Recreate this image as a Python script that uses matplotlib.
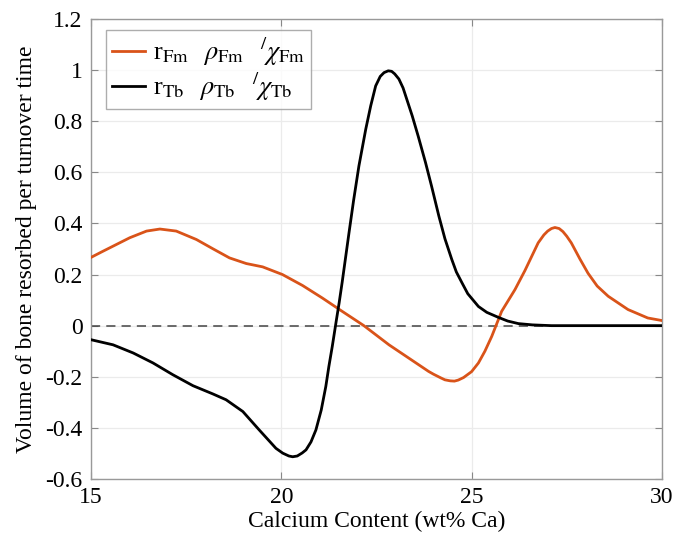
import matplotlib
matplotlib.use("Agg")
import matplotlib.pyplot as plt
from matplotlib.ticker import FuncFormatter

plt.rcParams['font.family'] = ['Liberation Serif', 'DejaVu Serif']
plt.rcParams['mathtext.fontset'] = 'stix'
plt.rcParams['axes.unicode_minus'] = False

fm_x = [15.0, 15.3, 15.58, 16.02, 16.46, 16.81, 17.24, 17.77, 18.20, 18.64, 19.08, 19.51,
        20.03, 20.56, 21.08, 21.6, 22.17, 22.83, 23.35, 23.87, 24.0, 24.2, 24.3, 24.44, 24.55,
        24.65, 24.79, 25.0, 25.18, 25.35, 25.53, 25.79, 26.14, 26.4, 26.75, 26.9, 27.0, 27.1,
        27.19, 27.3, 27.4, 27.5, 27.62, 27.85, 28.06, 28.3, 28.59, 29.11, 29.63, 30.0]
fm_y = [0.267, 0.29, 0.311, 0.344, 0.370, 0.378, 0.370, 0.337, 0.301, 0.265, 0.243, 0.230,
        0.200, 0.157, 0.108, 0.056, 0.0, -0.075, -0.127, -0.179, -0.19, -0.205, -0.212, -0.216, -0.217,
        -0.213, -0.203, -0.180, -0.146, -0.10, -0.042, 0.056, 0.141, 0.215, 0.324, 0.355, 0.370, 0.380,
        0.384, 0.380, 0.368, 0.350, 0.324, 0.26, 0.205, 0.155, 0.115, 0.063, 0.030, 0.020]

tb_x = [15.0, 15.58, 16.11, 16.63, 17.15, 17.68, 18.2, 18.55, 18.99, 19.42, 19.86, 20.04,
        20.2, 20.30, 20.42, 20.55, 20.65, 20.78, 20.91, 21.05, 21.17, 21.25, 21.34, 21.45,
        21.52, 21.6, 21.78, 21.9, 22.04, 22.22, 22.35, 22.48, 22.6, 22.7, 22.81, 22.9, 22.98,
        23.09, 23.2, 23.44, 23.6, 23.79, 23.95, 24.14, 24.3, 24.48, 24.6, 24.75, 24.9, 25.18,
        25.4, 25.71, 25.95, 26.23, 26.6, 27.1, 30.0]
tb_y = [-0.055, -0.075, -0.107, -0.146, -0.192, -0.235, -0.267, -0.290, -0.336, -0.408, -0.480, -0.499,
        -0.510, -0.513, -0.510, -0.498, -0.486, -0.455, -0.408, -0.33, -0.238, -0.16, -0.081, 0.024,
        0.089, 0.17, 0.364, 0.49, 0.625, 0.769, 0.86, 0.938, 0.975, 0.99, 0.997, 0.995, 0.985,
        0.965, 0.93, 0.821, 0.74, 0.638, 0.545, 0.429, 0.34, 0.259, 0.21, 0.167, 0.125, 0.075,
        0.052, 0.032, 0.018, 0.008, 0.003, 0.0, 0.0]

x_ticks = [15, 20, 25, 30]
y_ticks = [-0.6, -0.4, -0.2, 0, 0.2, 0.4, 0.6, 0.8, 1, 1.2]

label_fm = r'r$_{\mathrm{Fm}}$  $\,\rho_{\mathrm{Fm}}$  $\,^{/}\chi_{\mathrm{Fm}}$'
label_tb = r'r$_{\mathrm{Tb}}$  $\,\rho_{\mathrm{Tb}}$  $\,^{/}\chi_{\mathrm{Tb}}$'

fig = plt.figure(figsize=(6.74, 5.41), dpi=100)
ax = fig.add_axes([0.135, 0.1146, 0.847, 0.8504])

ax.axhline(0, color='#444444', lw=1.1, ls=(0, (6, 4)), zorder=1)
ax.plot(fm_x, fm_y, color='#D95319', lw=2.0, label=label_fm, zorder=3)
ax.plot(tb_x, tb_y, color='black', lw=2.0, label=label_tb, zorder=3)

ax.set_xlim(15, 30)
ax.set_ylim(-0.6, 1.2)
ax.set_xticks(x_ticks)
ax.set_yticks(y_ticks)
ax.yaxis.set_major_formatter(FuncFormatter(lambda v, p: ('%g' % round(v, 2))))
ax.grid(True, color='#ebebeb', lw=0.9)
ax.set_axisbelow(True)
ax.tick_params(direction='in', top=True, right=True, labelsize=17, length=5,
               color='#888888', pad=6)
for s in ax.spines.values():
    s.set_color('#999999')
    s.set_linewidth(1.0)

ax.set_xlabel('Calcium Content (wt% Ca)', fontsize=17, labelpad=2)
ax.set_ylabel('Volume of bone resorbed per turnover time', fontsize=17, labelpad=6)

leg = ax.legend(loc='upper left', fontsize=19, frameon=True, fancybox=False,
                edgecolor='#999999', handlelength=1.25, handletextpad=0.3,
                borderpad=0.22, borderaxespad=0.0,
                bbox_to_anchor=(0.027, 0.976), labelspacing=0.12)
leg.get_frame().set_linewidth(1.0)

fig.savefig('out.png', dpi=100)
